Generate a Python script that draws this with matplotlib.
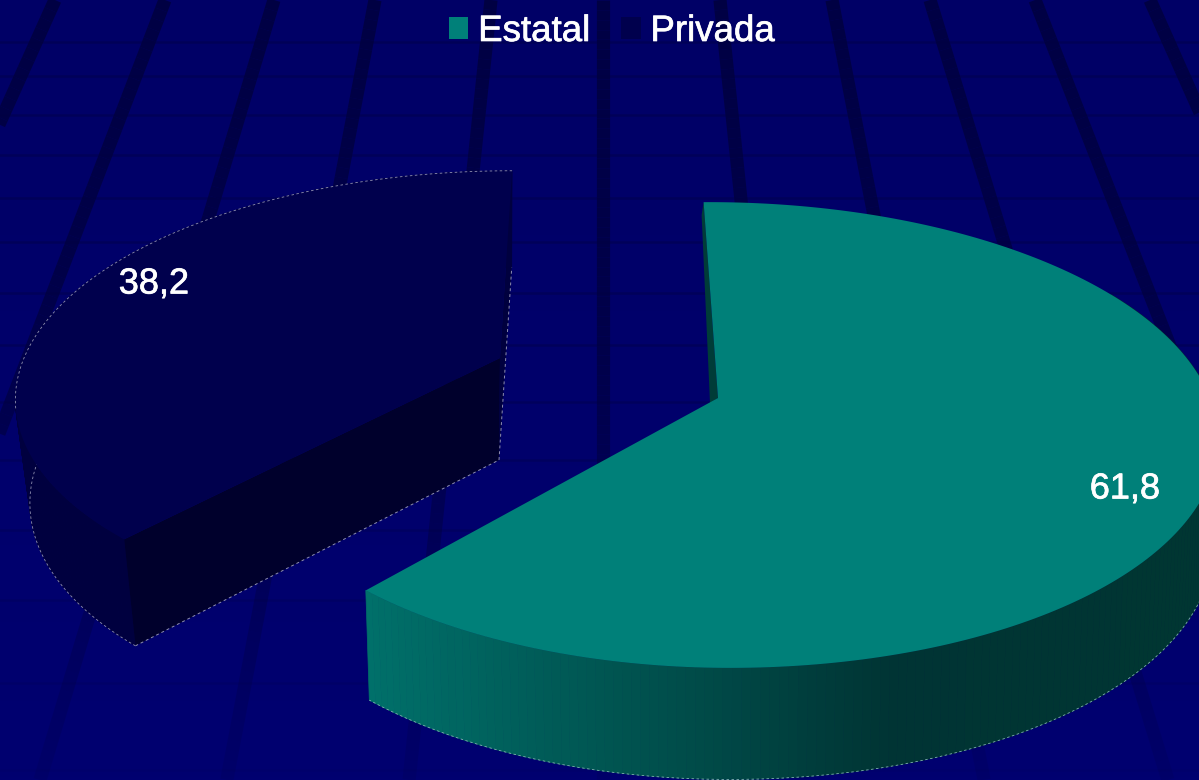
import numpy as np
import matplotlib
matplotlib.use("Agg")
from matplotlib import pyplot as plt
from matplotlib import patheffects
from matplotlib.collections import LineCollection, PolyCollection
from matplotlib.patches import Patch, Polygon

categories = ["Estatal", "Privada"]
values = [61.8, 38.2]
value_labels = ["61,8", "38,2"]

# background grid
ray_top_x = [55, 165, 274, 375, 491, 603, 720, 832, 930, 1035, 1150]
ray_slope = [-0.45, -0.383, -0.30, -0.19, -0.105, 0.0, 0.105, 0.195, 0.305, 0.39, 0.445]
grid_y = [42, 76, 115, 155, 198, 242, 293, 345, 402, 460, 530, 600, 683, 770]

plt.rcParams["font.family"] = ["Liberation Sans", "DejaVu Sans"]

fig = plt.figure(figsize=(11.99, 7.80), dpi=100)
ax = fig.add_axes([0, 0, 1, 1])
ax.set_xlim(0, 1199)
ax.set_ylim(780, 0)
ax.axis("off")

# vertical gradient behind everything
gradient = np.linspace(0, 1, 256).reshape(-1, 1, 1)
background = np.array([0, 0, 102]) / 255 + gradient * np.array([0, 0, 10]) / 255
ax.imshow(background, extent=(0, 1199, 780, 0), aspect="auto", zorder=0)


def fade(y):
    return np.interp(y, [0, 350, 780], [0.9, 0.75, 0.12])


for y in grid_y:
    ax.plot([0, 1199], [y, y], color="#000056", lw=1.8, alpha=float(fade(y)), zorder=1)

ys = np.linspace(0, 780, 80)
for top_x, slope in zip(ray_top_x, ray_slope):
    xs = top_x + slope * ys
    segments = [[(xs[i], ys[i]), (xs[i + 1], ys[i + 1])] for i in range(len(ys) - 1)]
    colors = [(0, 0, 64 / 255, float(fade(y))) for y in ys[:-1]]
    ax.add_collection(LineCollection(segments, colors=colors, linewidths=9.5, capstyle="butt", zorder=2))


def project(angle, geom, radius=1.0):
    # angle in degrees, clockwise from the back of the pie
    a = np.radians(angle)
    px = radius * np.sin(a)
    py = radius * np.cos(a)
    s = geom["depth"] / (geom["depth"] + py)
    rx = np.where(px < 0, geom["rx_left"], geom["rx"])
    x = geom["cx"] + rx * px * s + geom["shear"] * py * s
    y = geom["cy"] - geom["ry"] * py * s
    return x, y, s


def drop(x, y, s, geom):
    # same rim point on the underside of the slice
    return geom["cx"] + (x - geom["cx"]) * geom["squeeze"], y + geom["height"] * s**0.35


teal = {"cx": 718, "cy": 398, "rx": 492, "rx_left": 478, "ry": 227, "depth": 6.29, "shear": -10,
        "height": 105, "squeeze": 0.99}
navy = {"cx": 500, "cy": 358, "rx": 476, "rx_left": 476, "ry": 217, "depth": 6.29, "shear": 14,
        "height": 102, "squeeze": 0.97}

sweep = np.cumsum(values) / np.sum(values) * 360

# Estatal
angles = np.linspace(-0.8, sweep[0] - 0.8, 240)
x, y, s = project(angles, teal)
bx, by = drop(x, y, s, teal)
ax.add_patch(Polygon([(x[0], y[0]), (teal["cx"], teal["cy"]), (teal["cx"] - 8, teal["cy"] + 5), (x[0] - 2, y[0] + 13)],
                     closed=True, facecolor="#003c38", edgecolor="none", zorder=3))
# only the front of the rim shows
front = angles >= 60
fx, fy, fbx, fby = x[front], y[front], bx[front], by[front]
quads = [[(fx[i], fy[i]), (fx[i + 1], fy[i + 1]), (fbx[i + 1], fby[i + 1]), (fbx[i], fby[i])] for i in range(len(fx) - 1)]
mid_x = (fx[:-1] + fx[1:]) / 2
shade_r = np.zeros_like(mid_x)
shade_g = np.interp(mid_x, [366, 560, 723, 890, 1199], [112, 90, 72, 52, 54]) / 255
shade_b = np.interp(mid_x, [366, 560, 723, 890, 1199], [106, 86, 70, 52, 50]) / 255
wall = PolyCollection(quads, facecolors=np.column_stack([shade_r, shade_g, shade_b]), edgecolors="face",
                      linewidths=0.5, zorder=3)
ax.add_collection(wall)
ax.plot(fbx, fby, color="#7fb0b0", lw=0.6, ls=(0, (3, 3)), zorder=3.5)
ax.add_patch(Polygon(np.column_stack([np.r_[x, teal["cx"]], np.r_[y, teal["cy"]]]), closed=True,
                     facecolor="#008079", edgecolor="none", zorder=4))

# Privada
angles = np.linspace(sweep[0], sweep[1], 160)
x, y, s = project(angles, navy)
bx, by = drop(x, y, s, navy)
apex_bx = navy["cx"] - 1
apex_by = navy["cy"] + navy["height"]
ax.add_patch(Polygon([(x[-1], y[-1]), (navy["cx"], navy["cy"]), (apex_bx, apex_by), (bx[-1], by[-1])],
                     closed=True, facecolor="#00003e", edgecolor="none", zorder=3))
quads = [[(x[i], y[i]), (x[i + 1], y[i + 1]), (bx[i + 1], by[i + 1]), (bx[i], by[i])] for i in range(len(x) - 1)]
ax.add_collection(PolyCollection(quads, facecolors="#00003f", edgecolors="face", linewidths=0.5, zorder=3))
ax.plot(np.r_[bx[:60]], np.r_[by[:60]], color="#8f8fb0", lw=0.6, ls=(0, (3, 3)), zorder=3.5)
ax.add_patch(Polygon([(x[0], y[0]), (navy["cx"], navy["cy"]), (apex_bx, apex_by), (bx[0], by[0])],
                     closed=True, facecolor="#00002c", edgecolor="none", zorder=4))
ax.plot([bx[0], apex_bx, bx[-1]], [by[0], apex_by, by[-1]], color="#8f8fb0", lw=0.7, ls=(0, (3, 3)), zorder=4.5)
ax.add_patch(Polygon(np.column_stack([np.r_[x, navy["cx"]], np.r_[y, navy["cy"]]]), closed=True,
                     facecolor="#00004d", edgecolor="none", zorder=5))
ax.plot(x[40:], y[40:], color="#8f8fb0", lw=0.6, ls=(0, (3, 3)), zorder=6)

text_stroke = [patheffects.withStroke(linewidth=0.5, foreground="white")]
for pos, text in zip([(1125, 489), (154, 284)], value_labels):
    ax.text(pos[0], pos[1], text, color="white", fontsize=26, ha="center", va="center", zorder=7,
            path_effects=text_stroke)

handles = [Patch(facecolor="#008079", label=categories[0]), Patch(facecolor="#00004d", label=categories[1])]
legend = ax.legend(handles=handles, ncol=2, frameon=False, loc="center", bbox_to_anchor=(612 / 1199, 1 - 31.5 / 780),
                   fontsize=26.4, handlelength=0.52, handleheight=0.52, handletextpad=0.27, columnspacing=0.85,
                   borderpad=0, labelcolor="white")
legend.set_zorder(8)
for label in legend.get_texts():
    label.set_path_effects(text_stroke)

fig.savefig("out.png", dpi=100)
